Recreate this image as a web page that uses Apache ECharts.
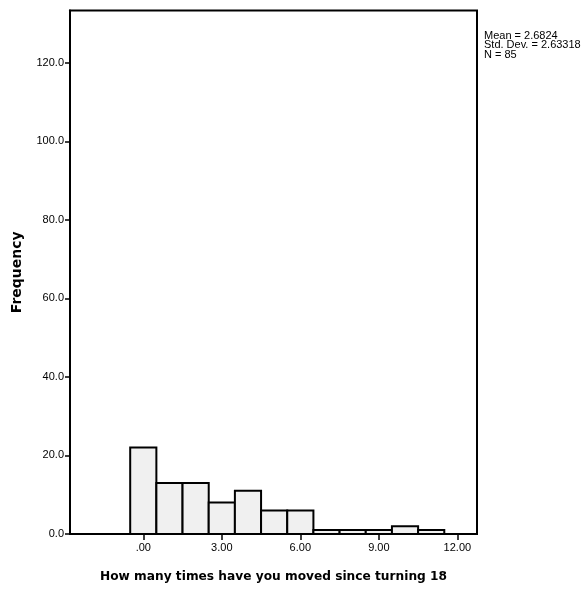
<!DOCTYPE html>
<html>
<head>
<meta charset="utf-8">
<title>How many times have you moved since turning 18</title>
<script src="https://cdn.jsdelivr.net/npm/echarts@6/dist/echarts.min.js"></script>
<style>
  html, body { margin: 0; padding: 0; background: #ffffff; }
  #chart { width: 583px; height: 592px; }
</style>
</head>
<body>
<div id="chart"></div>
<script>
// Histogram bins: each bin is one unit wide, centred on the number of moves
const binCenters = [0, 1, 2, 3, 4, 5, 6, 7, 8, 9, 10, 11];
const frequencies = [22, 13, 13, 8, 11, 6, 6, 1, 1, 1, 2, 1];
const binWidth = 1;

// Axis ticks
const xTickValues = [0, 3, 6, 9, 12];
const yTickValues = [0, 20, 40, 60, 80, 100, 120];

// Summary statistics shown beside the plot
const statLines = ['Mean = 2.6824', 'Std. Dev. = 2.63318', 'N = 85'];

const labelFont = '"Liberation Sans Narrow", "Arial Narrow", "Liberation Sans", Arial, sans-serif';
const titleFont = '"DejaVu Sans", Verdana, sans-serif';

const histData = binCenters.map((c, i) => [c, frequencies[i]]);

const chart = echarts.init(document.getElementById('chart'), null, { renderer: 'canvas' });

chart.setOption({
  animation: false,
  backgroundColor: '#ffffff',
  grid: {
    left: 70, top: 10.5, width: 407, height: 523.5,
    show: true, borderColor: '#000', borderWidth: 2, backgroundColor: '#ffffff'
  },
  xAxis: {
    type: 'value',
    min: -2.8, max: 12.75,
    name: 'How many times have you moved since turning 18',
    nameLocation: 'middle',
    nameGap: 37,
    nameTextStyle: { fontFamily: titleFont, fontWeight: 'bold', fontSize: 12.2, color: '#000' },
    axisLine: { show: true, onZero: false, lineStyle: { color: '#000', width: 2 } },
    axisTick: { show: true, customValues: xTickValues, length: 6, lineStyle: { color: '#000', width: 1.5 } },
    axisLabel: {
      customValues: xTickValues,
      formatter: v => (v === 0 ? '.00' : v.toFixed(2)),
      fontFamily: labelFont, fontSize: 11, color: '#000', margin: 8
    },
    splitLine: { show: false }
  },
  yAxis: {
    type: 'value',
    min: 0, max: 133.3,
    name: 'Frequency',
    nameLocation: 'middle',
    nameGap: 46,
    nameTextStyle: { fontFamily: titleFont, fontWeight: 'bold', fontSize: 14, color: '#000' },
    axisLine: { show: true, onZero: false, lineStyle: { color: '#000', width: 2 } },
    axisTick: { show: true, customValues: yTickValues, length: 5, lineStyle: { color: '#000', width: 1.5 } },
    axisLabel: {
      customValues: yTickValues,
      formatter: v => v.toFixed(1),
      fontFamily: labelFont, fontSize: 11, color: '#000', margin: 6
    },
    splitLine: { show: false }
  },
  series: [{
    type: 'custom',
    data: histData,
    renderItem: function (params, api) {
      const c = api.value(0);
      const f = api.value(1);
      const p0 = api.coord([c - binWidth / 2, f]);
      const p1 = api.coord([c + binWidth / 2, 0]);
      return {
        type: 'rect',
        shape: { x: p0[0], y: p0[1], width: p1[0] - p0[0], height: p1[1] - p0[1] },
        style: { fill: '#f0f0f0', stroke: '#000', lineWidth: 2 }
      };
    }
  }],
  graphic: statLines.map((t, i) => ({
    type: 'text',
    left: 484, top: 30 + i * 9.5,
    style: { text: t, fontFamily: labelFont, fontSize: 11, fill: '#000' }
  }))
});
</script>
</body>
</html>
